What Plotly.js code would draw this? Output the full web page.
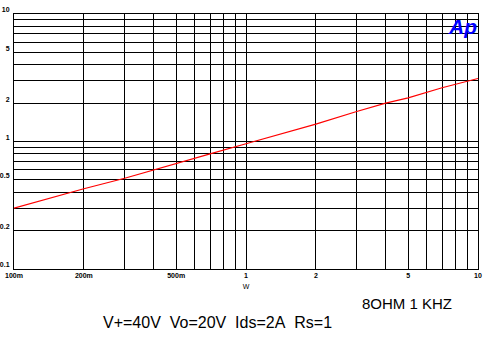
<!DOCTYPE html>
<html>
<head>
<meta charset="utf-8">
<script src="https://cdn.plot.ly/plotly-3.0.1.min.js"></script>
<style>html,body{margin:0;padding:0;background:#fff;}#chart{width:487px;height:344px;}</style>
</head>
<body>
<div id="chart"></div>
<script>
// Data (log-log)
const powerW = [0.1, 0.2, 0.3, 0.5, 0.7, 1, 2, 3, 4, 5, 7, 10];
const outputV = [0.30, 0.426, 0.515, 0.675, 0.80, 0.96, 1.37, 1.72, 2.0, 2.2, 2.64, 3.12];

const gridVals = [0.1,0.2,0.3,0.4,0.5,0.6,0.7,0.8,0.9,1,2,3,4,5,6,7,8,9,10];
const xLabelVals = [0.1, 0.2, 0.5, 1, 2, 5, 10];
const xLabelText = ["100m", "200m", "500m", "1", "2", "5", "10"];
const yLabelVals = [0.1, 0.2, 0.5, 1, 2, 5, 10];
const yLabelText = ["0.1", "0.2", "0.5", "1", "2", "5", "10"];

function labelsFor(vals, text) {
  return gridVals.map(v => {
    const i = vals.findIndex(x => Math.abs(x - v) < 1e-9);
    return i >= 0 ? text[i] : "";
  });
}

const tickFont = {family: "Liberation Sans, Arial, sans-serif", size: 7, color: "#000", weight: "bold"};

const trace = {
  x: powerW, y: outputV, type: "scatter", mode: "lines",
  line: {color: "#ff0000", width: 1.2}, hoverinfo: "skip"
};

const L = 14, R = 9, T = 14, B = 75;
const PW = 487 - L - R, PH = 344 - T - B;

const layout = {
  width: 487, height: 344,
  margin: {l: L, r: R, t: T, b: B},
  paper_bgcolor: "#fff", plot_bgcolor: "#fff",
  showlegend: false,
  xaxis: {
    type: "log", range: [-1, 1],
    tickmode: "array", tickvals: gridVals, ticktext: labelsFor(xLabelVals, xLabelText),
    showgrid: true, gridcolor: "#000", gridwidth: 1,
    showline: true, linecolor: "#000", linewidth: 1, mirror: true,
    ticks: "", tickfont: tickFont, ticklabelstandoff: 0,
    zeroline: false,
    title: {text: "W", font: {family: "Liberation Sans, Arial, sans-serif", size: 7, color: "#000"}, standoff: 5}
  },
  yaxis: {
    type: "log", range: [-1, 1],
    tickmode: "array", tickvals: gridVals, ticktext: labelsFor(yLabelVals, yLabelText),
    showgrid: true, gridcolor: "#000", gridwidth: 1,
    showline: true, linecolor: "#000", linewidth: 1, mirror: true,
    ticks: "", tickfont: tickFont, ticklabelstandoff: 2, ticklabelshift: -4,
    zeroline: false
  },
  annotations: [
    {text: "<b><i>Ap</i></b>", xref: "paper", yref: "paper", x: (479 - L) / PW, y: (344 - B - 13) / PH, xanchor: "right", yanchor: "top",
     showarrow: false, font: {family: "Liberation Sans Narrow, Liberation Sans, Arial, sans-serif", size: 21, color: "#0000ff"}},
    {text: "8OHM 1 KHZ", xref: "paper", yref: "paper", x: (360 - L) / PW, y: -(303 - 269) / PH, xanchor: "left", yanchor: "middle",
     showarrow: false, font: {family: "Liberation Sans, Arial, sans-serif", size: 15, color: "#000"}},
    {text: "V+=40V&nbsp;&nbsp;Vo=20V&nbsp;&nbsp;Ids=2A&nbsp;&nbsp;Rs=1", xref: "paper", yref: "paper", x: (101 - L) / PW, y: -(322 - 269) / PH, xanchor: "left", yanchor: "middle",
     showarrow: false, font: {family: "Liberation Sans, Arial, sans-serif", size: 16, color: "#000"}}
  ]
};

Plotly.newPlot("chart", [trace], layout, {staticPlot: true, displayModeBar: false});
</script>
</body>
</html>
